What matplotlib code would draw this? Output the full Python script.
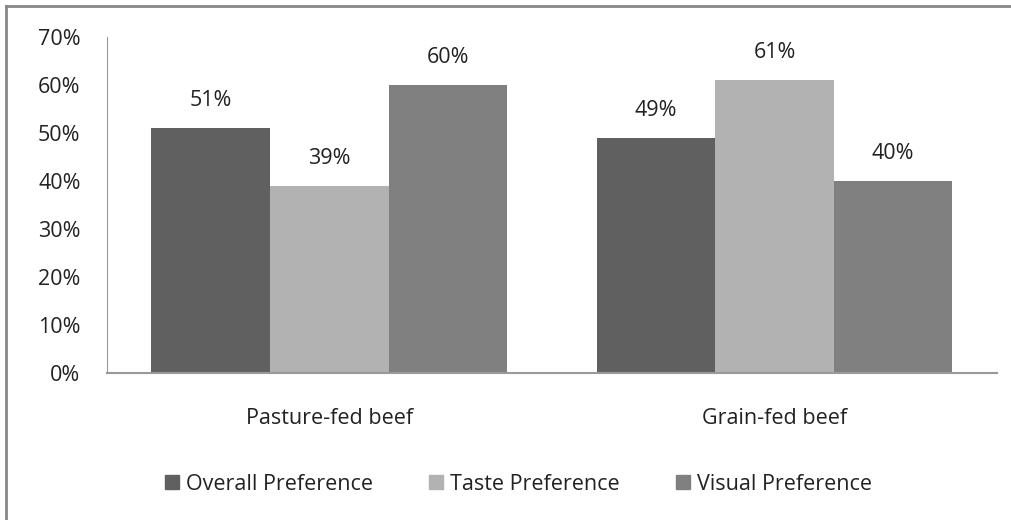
#Grouped bar chart: beef preference by feeding type.
import numpy as np
import matplotlib.pyplot as plt
from matplotlib.lines import Line2D

categories = ["Pasture-fed beef", "Grain-fed beef"]
series_names = ["Overall Preference", "Taste Preference", "Visual Preference"]
overall = [51, 49]
taste = [39, 61]
visual = [60, 40]
yticks = [0, 10, 20, 30, 40, 50, 60, 70]

colors = ["#606060", "#b2b2b2", "#808080"]
plt.rcParams["font.family"] = ["Open Sans", "DejaVu Sans"]
fs = 15.5

fig = plt.figure(figsize=(10.12, 5.2), dpi=100)
ax = fig.add_axes([107 / 1012, 1 - 373 / 520, 890 / 1012, 336 / 520])

x = np.arange(len(categories))
width = 0.8 / 3
for i, (name, vals) in enumerate(zip(series_names, [overall, taste, visual])):
    pos = x + (i - 1) * width
    ax.bar(pos, vals, width, color=colors[i], label=name)
    for p, v in zip(pos, vals):
        ax.annotate(f"{v}%", (p, v), xytext=(0, 20), textcoords="offset points",
                    ha="center", va="center", fontsize=fs, color="#222222")

ax.set_xlim(-0.5, 1.5)
ax.set_ylim(0, 70)
ax.set_yticks(yticks)
ax.set_yticklabels([f"{t}%" for t in yticks], fontsize=fs, color="#222222")
ax.set_xticks(x)
ax.set_xticklabels(categories, fontsize=fs, color="#222222")
ax.tick_params(axis="y", length=0, pad=19)
ax.tick_params(axis="x", length=0, pad=25)
for s in ["top", "right"]:
    ax.spines[s].set_visible(False)
ax.spines["left"].set_color("#999999")
ax.spines["bottom"].set_color("#999999")
ax.spines["bottom"].set_linewidth(1.5)

handles = [Line2D([], [], marker="s", linestyle="none", markersize=10,
                  markerfacecolor=c, markeredgecolor=c) for c in colors]
fig.legend(handles, series_names, loc="center", bbox_to_anchor=(0.512, 1 - 484 / 520),
           ncol=3, frameon=False, fontsize=fs, handlelength=0.7, handletextpad=0.3,
           columnspacing=2.6, labelcolor="#222222")

# outer chart frame (right and bottom edges cut off in the original)
fig.add_artist(Line2D([6 / 1012, 6 / 1012], [0, 1 - 6 / 520], transform=fig.transFigure,
                      color="#888888", linewidth=2))
fig.add_artist(Line2D([6 / 1012, 1], [1 - 6 / 520, 1 - 6 / 520], transform=fig.transFigure,
                      color="#888888", linewidth=2))

fig.savefig("out.png", dpi=100)
